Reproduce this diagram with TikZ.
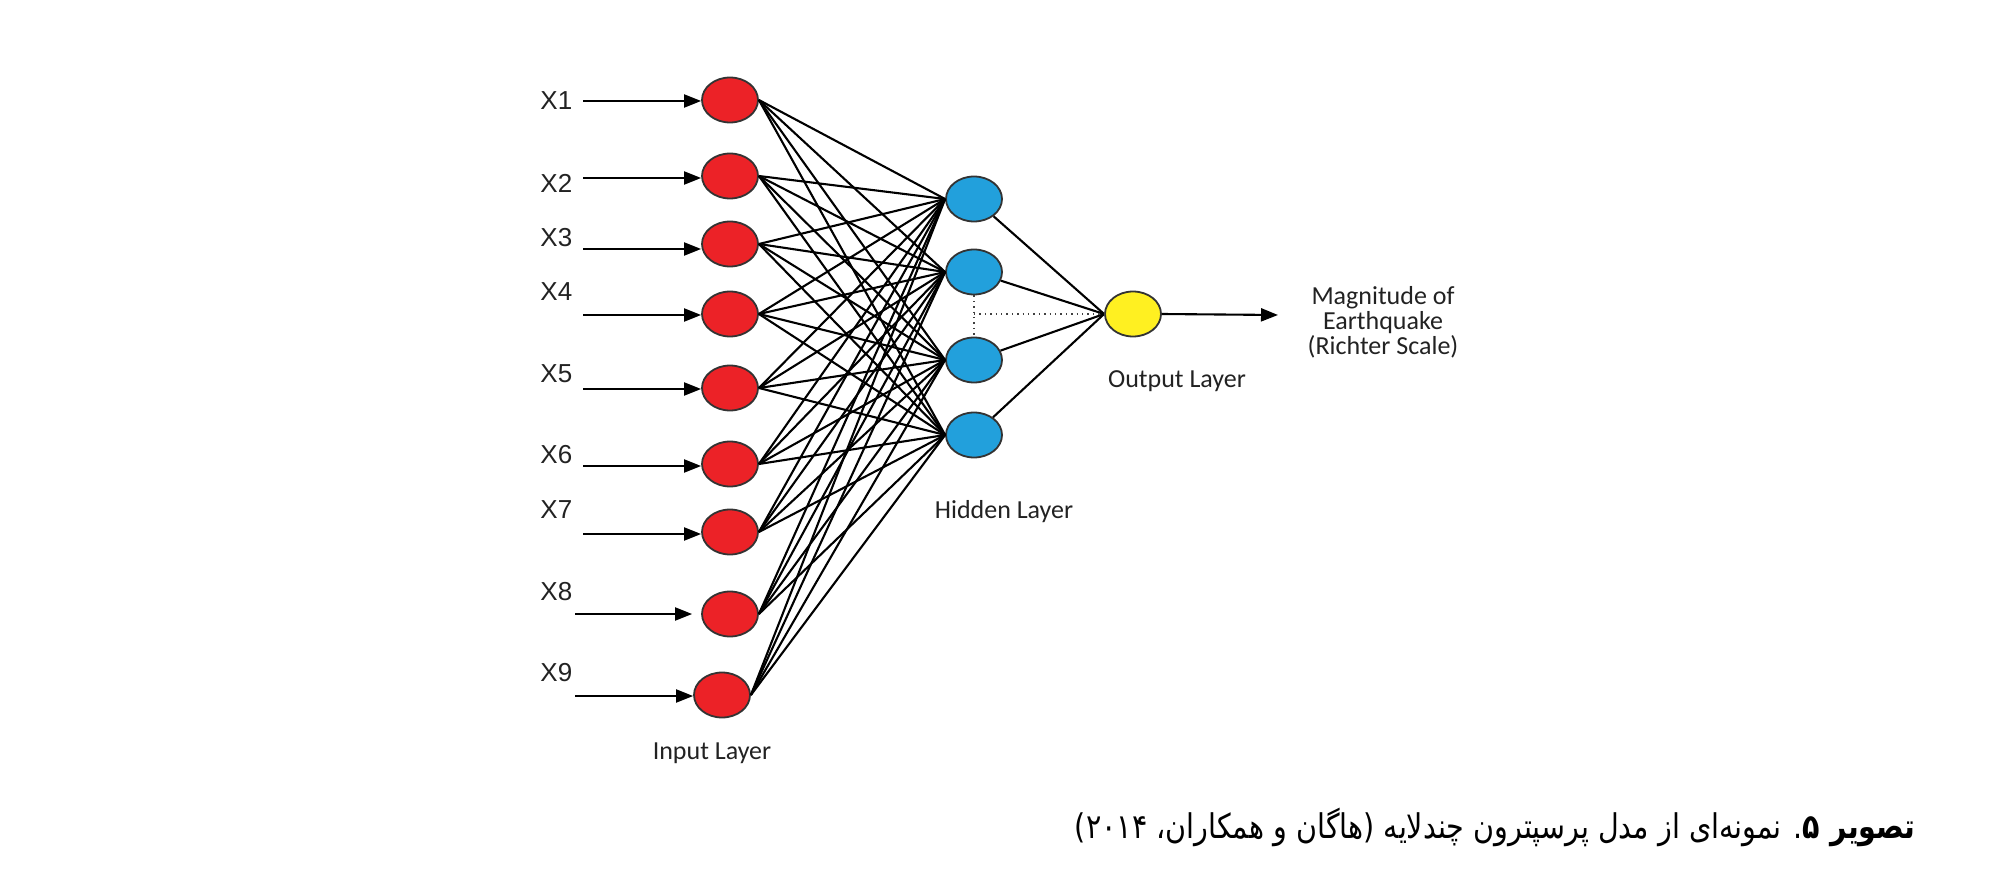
\documentclass[tikz,border=0pt]{standalone}
\usepackage{fontspec}
\usetikzlibrary{arrows.meta,shapes.geometric}
\newfontfamily\carlito{Carlito}
\newfontfamily\arialfont{Liberation Sans}
\newfontfamily\arabicfont[Script=Arabic,FakeStretch=0.84]{DejaVu Sans}
\TeXXeTstate=1
\definecolor{inred}{HTML}{EC2227}
\definecolor{hidblue}{HTML}{22A0DC}
\definecolor{outyellow}{HTML}{FFF021}
\definecolor{rim}{HTML}{333333}
\definecolor{txt}{HTML}{222222}
\tikzset{
  neuron/.style={ellipse, draw=rim, line width=0.9pt, minimum width=28pt, minimum height=22.5pt, inner sep=0pt},
  inode/.style={neuron, fill=inred},
  hnode/.style={neuron, fill=hidblue},
  onode/.style={neuron, fill=outyellow},
  conn/.style={line width=1.05pt, black},
  inarrow/.style={line width=1.05pt, black, -{Triangle[length=8.5pt,width=6.5pt]}},
  xlbl/.style={anchor=west, inner sep=0pt, text=txt, font=\arialfont\fontsize{13}{15}\selectfont},
  lyrlbl/.style={inner sep=0pt, text=txt, font=\carlito\fontsize{13}{12.5}\selectfont, align=center},
  dotline/.style={line width=0.7pt, dotted, black!75}
}
\begin{document}
\begin{tikzpicture}[x=0.5pt, y=-0.5pt]
\useasboundingbox (0,0) rectangle (2000,887);
% input layer
\node[inode] (i1) at (730,100) {};
\node[inode] (i2) at (730,176) {};
\node[inode] (i3) at (730,244) {};
\node[inode] (i4) at (730,314) {};
\node[inode] (i5) at (730,388) {};
\node[inode] (i6) at (730,464) {};
\node[inode] (i7) at (730,532) {};
\node[inode] (i8) at (730,614) {};
\node[inode] (i9) at (722,695) {};
% hidden layer
\node[hnode] (h1) at (974,199) {};
\node[hnode] (h2) at (974,272) {};
\node[hnode] (h3) at (974,360) {};
\node[hnode] (h4) at (974,435) {};
% output
\node[onode] (o) at (1133,314) {};
% connections
\foreach \i in {1,...,9}{
  \foreach \h in {1,...,4}{
    \draw[conn] (i\i.east) -- (h\h.west);
  }
}
\foreach \h in {1,...,4}{
  \draw[conn] (h\h) -- (o.west);
}
\draw[dotline] (h2.south) -- (h3.north);
\coordinate (dm) at (974,314);
\draw[dotline] (dm) -- (o.west);
% input arrows
\coordinate (a1) at (583,101);
\coordinate (a2) at (583,178);
\coordinate (a3) at (583,249);
\coordinate (a4) at (583,315);
\coordinate (a5) at (583,389);
\coordinate (a6) at (583,466);
\coordinate (a7) at (583,534);
\coordinate (a8) at (575,614);
\coordinate (a9) at (575,696);
\foreach \k in {1,...,7}{
  \draw[inarrow] (a\k) -- (a\k -| i\k.west);
}
\draw[inarrow, shorten >=4.5pt] (a8) -- (a8 -| i8.west);
\draw[inarrow] (a9) -- (a9 -| i9.west);
% X labels
\node[xlbl] (x1) at (540,101) {X1};
\node[xlbl] (x2) at (540,183) {X2};
\node[xlbl] (x3) at (540,238) {X3};
\node[xlbl] (x4) at (540,292) {X4};
\node[xlbl] (x5) at (540,374) {X5};
\node[xlbl] (x6) at (540,455) {X6};
\node[xlbl] (x7) at (540,510) {X7};
\node[xlbl] (x8) at (540,592) {X8};
\node[xlbl] (x9) at (540,673) {X9};
% output arrow
\coordinate (oend) at (1278,315);
\draw[inarrow] (o.east) -- (oend);
% layer labels
\node[lyrlbl] (lin) at (712,753) {Input Layer};
\node[lyrlbl] (lhid) at (1004,512) {Hidden Layer};
\node[lyrlbl] (lout) at (1177,381) {Output Layer};
\node[lyrlbl] (lmag) at (1383,322) {Magnitude of\\Earthquake\\(Richter Scale)};
% caption
\node[anchor=base east, inner sep=0pt, text=black, font=\arabicfont\fontsize{17}{20}\selectfont] (cap) at (1916,838)
  {\beginR{\bfseries تصویر ۵}. نمونه‌ای از مدل پرسپترون چندلایه (هاگان و همکاران، ۲۰۱۴)\endR};
\end{tikzpicture}
\end{document}
